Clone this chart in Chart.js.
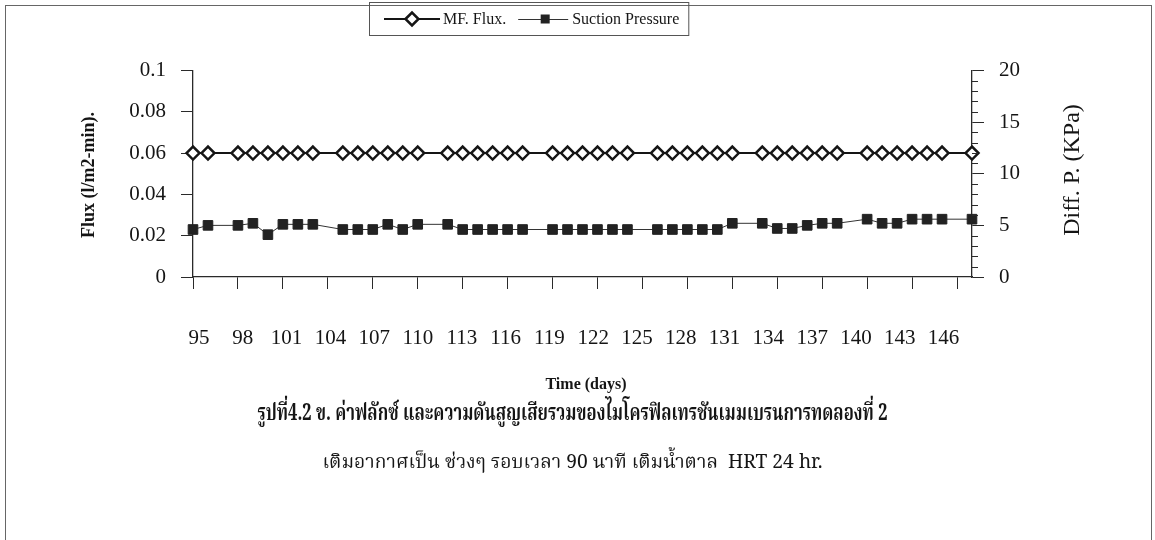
<!DOCTYPE html>
<html>
<head>
<meta charset="utf-8">
<script src="https://cdn.jsdelivr.net/npm/chart.js@4.4.1/dist/chart.umd.min.js"></script>
<style>
  html, body { margin: 0; padding: 0; background: #fff; }
  #wrap { width: 1155px; height: 540px; position: relative; }
</style>
</head>
<body>
<div id="wrap"><canvas id="c" width="1155" height="540"></canvas></div>
<script>
// Sampling days (x values)
const days = [95, 96, 98, 99, 100, 101, 102, 103, 105, 106, 107, 108, 109, 110,
  112, 113, 114, 115, 116, 117, 119, 120, 121, 122, 123, 124, 126, 127, 128, 129,
  130, 131, 133, 134, 135, 136, 137, 138, 140, 141, 142, 143, 144, 145, 147];

// MF flux, l/m2-min (left axis)
const fluxValues = [0.06, 0.06, 0.06, 0.06, 0.06, 0.06, 0.06, 0.06, 0.06, 0.06, 0.06, 0.06, 0.06, 0.06,
  0.06, 0.06, 0.06, 0.06, 0.06, 0.06, 0.06, 0.06, 0.06, 0.06, 0.06, 0.06, 0.06, 0.06, 0.06, 0.06,
  0.06, 0.06, 0.06, 0.06, 0.06, 0.06, 0.06, 0.06, 0.06, 0.06, 0.06, 0.06, 0.06, 0.06, 0.06];

// Suction pressure, kPa (right axis)
const pressureValues = [4.6, 5.0, 5.0, 5.2, 4.1, 5.1, 5.1, 5.1, 4.6, 4.6, 4.6, 5.1, 4.6, 5.1,
  5.1, 4.6, 4.6, 4.6, 4.6, 4.6, 4.6, 4.6, 4.6, 4.6, 4.6, 4.6, 4.6, 4.6, 4.6, 4.6,
  4.6, 5.2, 5.2, 4.7, 4.7, 5.0, 5.2, 5.2, 5.6, 5.2, 5.2, 5.6, 5.6, 5.6, 5.6];

// Axis ticks and their labels
const dayTicks = [95, 98, 101, 104, 107, 110, 113, 116, 119, 122, 125, 128, 131, 134, 137, 140, 143, 146];
const dayTickLabels = ['95', '98', '101', '104', '107', '110', '113', '116', '119', '122', '125', '128', '131', '134', '137', '140', '143', '146'];
const fluxTicks = [0, 0.02, 0.04, 0.06, 0.08, 0.1];
const fluxTickLabels = ['0', '0.02', '0.04', '0.06', '0.08', '0.1'];
const pressureTicks = [0, 5, 10, 15, 20];
const pressureTickLabels = ['0', '5', '10', '15', '20'];

const seriesNames = ['MF. Flux.', 'Suction Pressure'];
const fluxAxisTitle = 'Flux (l/m2-min).';
const pressureAxisTitle = 'Diff. P. (KPa)';
const timeAxisTitle = 'Time (days)';
const captionLine1 = 'รูปที่4.2 ข. ค่าฟลักซ์ และความดันสูญเสียรวมของไมโครฟิลเทรชันเมมเบรนการทดลองที่ 2';
const captionLine2 = 'เติมอากาศเป็น ช่วงๆ รอบเวลา 90 นาที เติมน้ำตาล  HRT 24 hr.';

const SERIF = "'Liberation Serif', 'Times New Roman', serif";
const THAI = "'Noto Serif Thai', 'Noto Sans Thai', 'Norasi', 'Garuda', 'Loma', 'Tlwg Typo', 'Liberation Serif', serif";
const INK = '#151515';
const AXIS = '#2a2a2a';

function pts(xs, ys) { return xs.map((x, i) => ({ x: x, y: ys[i] })); }

// text squeezed horizontally to a given width, centred on cx
function fitText(ctx, text, font, cx, y, width) {
  ctx.save();
  ctx.font = font;
  const w = ctx.measureText(text).width;
  ctx.translate(cx, y);
  ctx.scale(width / w, 1);
  ctx.textAlign = 'center';
  ctx.fillText(text, 0, 0);
  ctx.restore();
}

// Frame, legend, axis titles, caption and minor ticks
const decor = {
  id: 'decor',
  afterDraw(chart) {
    const ctx = chart.ctx;
    const area = chart.chartArea;
    const yR = chart.scales.y1;
    ctx.save();

    // outer frame
    ctx.strokeStyle = '#666';
    ctx.lineWidth = 1;
    ctx.strokeRect(5.5, 5.5, 1146, 560);

    // minor ticks on the pressure axis
    ctx.strokeStyle = AXIS;
    ctx.lineWidth = 1;
    for (let v = 1; v < 20; v++) {
      if (v % 5 === 0) continue;
      const py = Math.round(yR.getPixelForValue(v)) + 0.5;
      ctx.beginPath();
      ctx.moveTo(area.right, py);
      ctx.lineTo(area.right + 6, py);
      ctx.stroke();
    }

    // legend
    ctx.font = '16px ' + SERIF;
    ctx.textBaseline = 'middle';
    ctx.textAlign = 'left';
    const ly = 19;
    const bx = 369;
    // flux entry
    ctx.strokeStyle = INK; ctx.lineWidth = 2;
    ctx.beginPath(); ctx.moveTo(384, ly); ctx.lineTo(440, ly); ctx.stroke();
    ctx.beginPath();
    ctx.moveTo(412 - 6.5, ly); ctx.lineTo(412, ly - 6.5); ctx.lineTo(412 + 6.5, ly); ctx.lineTo(412, ly + 6.5); ctx.closePath();
    ctx.fillStyle = '#fff'; ctx.fill(); ctx.lineWidth = 2.5; ctx.stroke();
    let cx = 443;
    ctx.fillStyle = INK;
    ctx.fillText(seriesNames[0], cx, ly + 1);
    cx += ctx.measureText(seriesNames[0]).width + 12;
    // pressure entry
    ctx.strokeStyle = '#333'; ctx.lineWidth = 1;
    ctx.beginPath(); ctx.moveTo(cx, ly + 0.5); ctx.lineTo(cx + 50, ly + 0.5); ctx.stroke();
    ctx.fillStyle = '#222';
    ctx.fillRect(cx + 27 - 4.5, ly - 4.5, 9, 9);
    cx += 54;
    ctx.fillStyle = INK;
    ctx.fillText(seriesNames[1], cx, ly + 1);
    cx += ctx.measureText(seriesNames[1]).width + 9;
    ctx.strokeStyle = '#555'; ctx.lineWidth = 1;
    ctx.strokeRect(bx + 0.5, 2.5, cx - bx, 33);

    // left axis title
    ctx.save();
    ctx.translate(89, 175);
    ctx.rotate(-Math.PI / 2);
    ctx.font = 'bold 18px ' + SERIF;
    ctx.textAlign = 'center';
    ctx.fillStyle = INK;
    ctx.fillText(fluxAxisTitle, 0, 0);
    ctx.restore();

    // right axis title
    ctx.save();
    ctx.translate(1073, 170);
    ctx.rotate(-Math.PI / 2);
    ctx.font = '24px ' + SERIF;
    ctx.textAlign = 'center';
    ctx.fillStyle = INK;
    ctx.fillText(pressureAxisTitle, 0, 0);
    ctx.restore();

    // time axis title
    ctx.font = 'bold 16px ' + SERIF;
    ctx.textAlign = 'center';
    ctx.fillStyle = INK;
    ctx.fillText(timeAxisTitle, 586, 385);

    // caption
    ctx.fillStyle = INK;
    fitText(ctx, captionLine1, 'bold 23px ' + THAI, 572.5, 416, 630);
    fitText(ctx, captionLine2, '20px ' + THAI, 572.5, 465, 500);

    ctx.restore();
  }
};

const tickFont = { family: SERIF, size: 21 };

new Chart(document.getElementById('c'), {
  type: 'line',
  data: {
    datasets: [
      {
        label: seriesNames[0],
        data: pts(days, fluxValues),
        xAxisID: 'x',
        yAxisID: 'y',
        borderColor: INK,
        borderWidth: 2,
        pointStyle: 'rectRot',
        pointRadius: 6.5,
        pointBackgroundColor: '#fff',
        pointBorderColor: INK,
        pointBorderWidth: 2.5,
        tension: 0,
        clip: false
      },
      {
        label: seriesNames[1],
        data: pts(days, pressureValues),
        xAxisID: 'x',
        yAxisID: 'y1',
        borderColor: '#333',
        borderWidth: 1,
        pointStyle: 'rect',
        pointRadius: 6.8,
        pointBackgroundColor: '#222',
        pointBorderColor: '#222',
        pointBorderWidth: 1,
        tension: 0,
        clip: false
      }
    ]
  },
  options: {
    responsive: false,
    animation: false,
    devicePixelRatio: 1,
    layout: { padding: { top: 70.5, left: 0, right: 0, bottom: 183 } },
    plugins: { legend: { display: false }, tooltip: { enabled: false } },
    scales: {
      x: {
        type: 'linear', position: 'bottom', weight: 0,
        min: 95, max: 147,
        afterBuildTicks: s => { s.ticks = dayTicks.map(v => ({ value: v })); },
        afterFit: s => { s.height = 40; },
        grid: { display: true, drawOnChartArea: false, drawTicks: true, tickLength: 12, tickColor: AXIS, tickWidth: 1 },
        border: { display: true, color: AXIS, width: 1.3 },
        ticks: { display: false }
      },
      xl: {
        type: 'linear', position: 'bottom', weight: 1,
        min: 94.59, max: 147.95,
        afterBuildTicks: s => { s.ticks = dayTicks.map(v => ({ value: v })); },
        afterFit: s => { s.height = 40; },
        grid: { display: false, drawTicks: false },
        border: { display: false },
        ticks: { font: tickFont, color: INK, padding: 9, maxRotation: 0, autoSkip: false,
                 callback: (v, i) => dayTickLabels[i] }
      },
      y: {
        type: 'linear', position: 'left',
        min: 0, max: 0.1,
        afterBuildTicks: s => { s.ticks = fluxTicks.map(v => ({ value: v })); },
        afterFit: s => { s.width = 193; },
        grid: { display: true, drawOnChartArea: false, drawTicks: true, tickLength: 12, tickColor: AXIS, tickWidth: 1 },
        border: { display: true, color: AXIS, width: 1.3 },
        ticks: { font: tickFont, color: INK, padding: 15, callback: (v, i) => fluxTickLabels[i] }
      },
      y1: {
        type: 'linear', position: 'right',
        min: 0, max: 20,
        afterBuildTicks: s => { s.ticks = pressureTicks.map(v => ({ value: v })); },
        afterFit: s => { s.width = 183; },
        grid: { display: true, drawOnChartArea: false, drawTicks: true, tickLength: 12, tickColor: AXIS, tickWidth: 1 },
        border: { display: true, color: AXIS, width: 1.3 },
        ticks: { font: tickFont, color: INK, padding: 15, callback: (v, i) => pressureTickLabels[i] }
      }
    }
  },
  plugins: [decor]
});
</script>
</body>
</html>
